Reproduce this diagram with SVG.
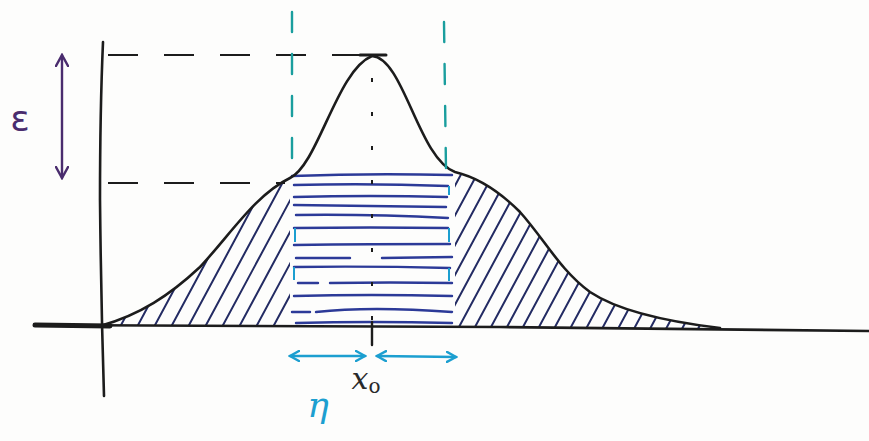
<svg xmlns="http://www.w3.org/2000/svg" width="869" height="441" viewBox="0 0 869 441">
<style>
.ink{fill:none;stroke:#1c1c1c;stroke-linecap:round;stroke-linejoin:round}
.hatch{stroke:#232b63;stroke-width:2;stroke-linecap:round}
.blue{stroke:#2c3a98;stroke-width:2.4;stroke-linecap:round;fill:none}
.cyan{stroke:#1c9fd0;stroke-width:2.6;fill:none;stroke-linecap:round}
.teal{stroke:#1a9e9e;stroke-width:2.4;fill:none;stroke-dasharray:20 22;stroke-linecap:round}
.dash{stroke:#1c1c1c;stroke-width:2.2;fill:none;stroke-dasharray:30 26}
.purple{stroke:#4a2c6e;stroke-width:2.4;fill:none;stroke-linecap:round}
</style>
<defs>
<marker id="cyanHead" viewBox="0 0 12 12" refX="10" refY="6" markerWidth="12" markerHeight="12" markerUnits="userSpaceOnUse" orient="auto-start-reverse">
<path d="M1,1 L10,6 L1,11" fill="none" stroke="#1c9fd0" stroke-width="2.4" stroke-linecap="round"/>
</marker>
<marker id="purpleHead" viewBox="0 0 14 14" refX="12" refY="7" markerWidth="14" markerHeight="14" markerUnits="userSpaceOnUse" orient="auto-start-reverse">
<path d="M1,1 L12,7 L1,13" fill="none" stroke="#4a2c6e" stroke-width="2.4" stroke-linecap="round"/>
</marker>
<clipPath id="leftClip">
<path d="M100,326 C140,315 170,295 200,267 C230,235 255,195 290,178 L290,326 Z"/>
</clipPath>
<clipPath id="rightClip">
<path d="M455,172 C480,178 500,192 520,212 C545,240 560,270 590,292 C620,312 670,322 720,328 L455,328 Z"/>
</clipPath>
</defs>
<rect width="869" height="441" fill="#fdfdfc"/>

<g id="hatching-left" clip-path="url(#leftClip)">
<line class="hatch" x1="96" y1="340" x2="196" y2="154"/>
<line class="hatch" x1="113" y1="340" x2="213" y2="154"/>
<line class="hatch" x1="130" y1="340" x2="230" y2="154"/>
<line class="hatch" x1="147" y1="340" x2="247" y2="154"/>
<line class="hatch" x1="164" y1="340" x2="264" y2="154"/>
<line class="hatch" x1="181" y1="340" x2="281" y2="154"/>
<line class="hatch" x1="198" y1="340" x2="298" y2="154"/>
<line class="hatch" x1="215" y1="340" x2="315" y2="154"/>
<line class="hatch" x1="232" y1="340" x2="332" y2="154"/>
<line class="hatch" x1="249" y1="340" x2="349" y2="154"/>
<line class="hatch" x1="266" y1="340" x2="366" y2="154"/>
<line class="hatch" x1="283" y1="340" x2="383" y2="154"/>
</g>

<g id="hatching-right" clip-path="url(#rightClip)">
<line class="hatch" x1="372" y1="340" x2="472" y2="154"/>
<line class="hatch" x1="388" y1="340" x2="488" y2="154"/>
<line class="hatch" x1="404" y1="340" x2="504" y2="154"/>
<line class="hatch" x1="420" y1="340" x2="520" y2="154"/>
<line class="hatch" x1="436" y1="340" x2="536" y2="154"/>
<line class="hatch" x1="452" y1="340" x2="552" y2="154"/>
<line class="hatch" x1="468" y1="340" x2="568" y2="154"/>
<line class="hatch" x1="484" y1="340" x2="584" y2="154"/>
<line class="hatch" x1="500" y1="340" x2="600" y2="154"/>
<line class="hatch" x1="516" y1="340" x2="616" y2="154"/>
<line class="hatch" x1="532" y1="340" x2="632" y2="154"/>
<line class="hatch" x1="548" y1="340" x2="648" y2="154"/>
<line class="hatch" x1="564" y1="340" x2="664" y2="154"/>
<line class="hatch" x1="580" y1="340" x2="680" y2="154"/>
<line class="hatch" x1="596" y1="340" x2="696" y2="154"/>
<line class="hatch" x1="612" y1="340" x2="712" y2="154"/>
<line class="hatch" x1="628" y1="340" x2="728" y2="154"/>
<line class="hatch" x1="644" y1="340" x2="744" y2="154"/>
<line class="hatch" x1="660" y1="340" x2="760" y2="154"/>
<line class="hatch" x1="676" y1="340" x2="776" y2="154"/>
<line class="hatch" x1="692" y1="340" x2="792" y2="154"/>
</g>

<g id="band">
<path class="blue" d="M292,176 Q370,173 452,175"/>
<path class="blue" d="M294,185 Q370,183 448,186"/>
<path class="blue" d="M294,197 Q370,195 447,197"/>
<path class="blue" d="M294,205 Q370,206 446,207"/>
<path class="blue" d="M296,215 Q370,214 448,218"/>
<path class="blue" d="M294,228 Q370,227 448,228"/>
<path class="blue" d="M294,245 Q370,244 450,244"/>
<path class="blue" d="M296,258 L350,258 M382,258 L452,257"/>
<path class="blue" d="M294,267 Q370,266 450,268"/>
<path class="blue" d="M298,283 L318,283 M330,283 Q390,282 452,283"/>
<path class="blue" d="M294,296 Q370,294 452,296"/>
<path class="blue" d="M292,312 L310,312 M316,312 Q370,306 452,312"/>
<path class="blue" d="M296,323 Q370,321 452,323"/>
<path d="M295,228 L295,242 M294,267 L294,280 M449,228 L449,242 M449,268 L449,281 M449,186 L449,195" stroke="#1c9fd0" stroke-width="2" fill="none"/>
</g>

<g id="axes">
<path class="ink" stroke-width="2.6" d="M103,42 Q100,110 100,200 Q101,300 104,396"/>
<path class="ink" stroke-width="2.6" d="M35,325 L500,327 L869,331"/>
<path class="ink" stroke-width="5" d="M35,325 L110,326"/>
<path class="ink" stroke-width="2.4" d="M372,322 L372,345"/>
</g>

<g id="curve">
<path class="ink" stroke-width="2.6" d="M100,326 C140,315 170,295 200,267 C230,235 255,195 290,178 C318,165 337,70 372,56 C404,58 418,158 455,172 C480,178 500,192 520,212 C545,240 560,270 590,292 C620,312 670,322 720,328"/>
<path class="ink" stroke-width="3" d="M360,55 L386,55"/>
</g>

<g id="guides">
<line class="dash" x1="108" y1="55" x2="368" y2="55"/>
<line class="dash" x1="108" y1="183" x2="285" y2="183"/>
<line class="teal" x1="292" y1="12" x2="292" y2="178"/>
<line class="teal" x1="444" y1="22" x2="446" y2="170"/>
<line x1="372" y1="78" x2="372" y2="330" stroke="#1c1c1c" stroke-width="2" stroke-dasharray="4 30"/>
</g>

<g id="epsilon">
<line class="purple" x1="62" y1="55" x2="62" y2="178" marker-start="url(#purpleHead)" marker-end="url(#purpleHead)"/>
<text x="20" y="131" font-family="DejaVu Sans, sans-serif" font-size="36" fill="#4a2c6e" text-anchor="middle">ε</text>
</g>

<g id="eta">
<line class="cyan" x1="290" y1="356" x2="365" y2="356" marker-start="url(#cyanHead)" marker-end="url(#cyanHead)"/>
<line class="cyan" x1="377" y1="356" x2="456" y2="357" marker-start="url(#cyanHead)" marker-end="url(#cyanHead)"/>
<text x="318" y="417" font-family="DejaVu Serif, serif" font-style="italic" font-size="36" fill="#1c9fd0" text-anchor="middle">η</text>
</g>

<g id="x0">
<text x="366" y="389" font-family="DejaVu Serif, serif" font-style="italic" font-size="30" fill="#2a2a2a" text-anchor="middle">x<tspan font-size="20" font-style="normal" dy="4">o</tspan></text>
</g>
</svg>
